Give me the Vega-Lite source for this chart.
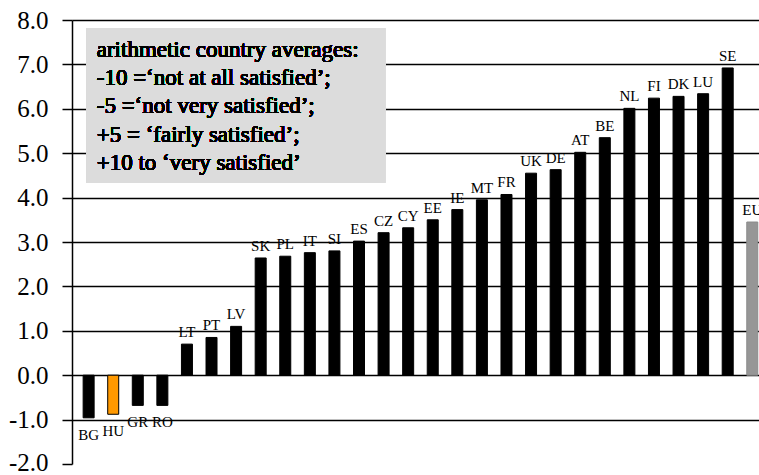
{
  "$schema": "https://vega.github.io/schema/vega-lite/v6.json",
  "autosize": {"type": "none"},
  "padding": {"left": 72, "top": 20, "right": 0, "bottom": 11},
  "width": 687,
  "height": 444,
  "background": "#ffffff",
  "config": {
    "view": {"stroke": null},
    "font": "Liberation Serif"
  },
  "data": {
    "values": [
      {"rank": 1, "country": "BG", "value": -0.96, "group": "country"},
      {"rank": 2, "country": "HU", "value": -0.88, "group": "HU"},
      {"rank": 3, "country": "GR", "value": -0.68, "group": "country"},
      {"rank": 4, "country": "RO", "value": -0.68, "group": "country"},
      {"rank": 5, "country": "LT", "value": 0.70, "group": "country"},
      {"rank": 6, "country": "PT", "value": 0.85, "group": "country"},
      {"rank": 7, "country": "LV", "value": 1.10, "group": "country"},
      {"rank": 8, "country": "SK", "value": 2.64, "group": "country"},
      {"rank": 9, "country": "PL", "value": 2.68, "group": "country"},
      {"rank": 10, "country": "IT", "value": 2.76, "group": "country"},
      {"rank": 11, "country": "SI", "value": 2.80, "group": "country"},
      {"rank": 12, "country": "ES", "value": 3.02, "group": "country"},
      {"rank": 13, "country": "CZ", "value": 3.21, "group": "country"},
      {"rank": 14, "country": "CY", "value": 3.32, "group": "country"},
      {"rank": 15, "country": "EE", "value": 3.50, "group": "country"},
      {"rank": 16, "country": "IE", "value": 3.73, "group": "country"},
      {"rank": 17, "country": "MT", "value": 3.95, "group": "country"},
      {"rank": 18, "country": "FR", "value": 4.07, "group": "country"},
      {"rank": 19, "country": "UK", "value": 4.55, "group": "country"},
      {"rank": 20, "country": "DE", "value": 4.63, "group": "country"},
      {"rank": 21, "country": "AT", "value": 5.02, "group": "country"},
      {"rank": 22, "country": "BE", "value": 5.35, "group": "country"},
      {"rank": 23, "country": "NL", "value": 6.01, "group": "country"},
      {"rank": 24, "country": "FI", "value": 6.24, "group": "country"},
      {"rank": 25, "country": "DK", "value": 6.28, "group": "country"},
      {"rank": 26, "country": "LU", "value": 6.34, "group": "country"},
      {"rank": 27, "country": "SE", "value": 6.92, "group": "country"},
      {"rank": 28, "country": "EU", "value": 3.45, "group": "EU"}
    ]
  },
  "encoding": {
    "x": {
      "field": "rank",
      "type": "quantitative",
      "scale": {"domain": [0.527, 28.07], "nice": false, "zero": false},
      "axis": null
    },
    "y": {
      "field": "value",
      "type": "quantitative",
      "scale": {"domain": [-2, 8], "nice": false, "zero": false},
      "axis": {
        "title": null,
        "values": [-2, -1, 0, 1, 2, 3, 4, 5, 6, 7, 8],
        "format": ".1f",
        "labelExpr": "replace(datum.label, '\u2212', '-')",
        "labelFont": "Liberation Serif",
        "labelFontSize": 25,
        "labelFontWeight": "normal",
        "labelColor": "#000000",
        "labelPadding": 14,
        "labelBound": false,
        "labelFlush": false,
        "labelOverlap": false,
        "labelOffset": {"condition": {"test": "datum.value == -2", "value": -2}, "value": 0},
        "tickSize": 10,
        "tickColor": "#000000",
        "tickWidth": 1.5,
        "domainColor": "#000000",
        "domainWidth": 1.5,
        "grid": true,
        "gridColor": "#000000",
        "gridWidth": 1.5,
        "gridOpacity": {"condition": {"test": "datum.value == -2", "value": 0}, "value": 1}
      }
    }
  },
  "layer": [
    {
      "mark": {"type": "rect", "color": "#dcdcdc"},
      "encoding": {
        "x": {"datum": 0.916, "type": "quantitative"},
        "x2": {"datum": 13.08},
        "y": {"datum": 7.81, "type": "quantitative"},
        "y2": {"datum": 4.34}
      }
    },
    {
      "mark": {
        "type": "text",
        "text": [
          "arithmetic country averages:",
          "-10 =\u2018not at all satisfied\u2019;",
          "-5 =\u2018not very satisfied\u2019;",
          "+5 = \u2018fairly satisfied\u2019;",
          "+10 to \u2018very satisfied\u2019"
        ],
        "align": "left",
        "baseline": "alphabetic",
        "font": "Liberation Serif",
        "fontSize": 23,
        "fontWeight": "normal",
        "lineHeight": 28.3,
        "color": "#000000"
      },
      "encoding": {
        "x": {"datum": 1.33, "type": "quantitative"},
        "y": {"datum": 7.17, "type": "quantitative"}
      }
    },
    {
      "mark": {"type": "bar", "size": 11, "clip": true, "strokeWidth": 1},
      "encoding": {
        "color": {
          "field": "group",
          "type": "nominal",
          "scale": {"domain": ["country", "HU", "EU"], "range": ["#000000", "#ff9900", "#969696"]},
          "legend": null
        },
        "stroke": {
          "field": "group",
          "type": "nominal",
          "scale": {"domain": ["country", "HU", "EU"], "range": ["#000000", "#000000", "#8c8c8c"]},
          "legend": null
        }
      }
    },
    {
      "transform": [{"filter": "datum.value >= 0"}],
      "mark": {"type": "text", "dy": -7, "baseline": "alphabetic", "font": "Liberation Serif", "fontSize": 15, "fontWeight": "normal", "color": "#000000"},
      "encoding": {"text": {"field": "country", "type": "nominal"}}
    },
    {
      "transform": [{"filter": "datum.value < 0"}],
      "mark": {"type": "text", "dy": 22, "baseline": "alphabetic", "font": "Liberation Serif", "fontSize": 15, "fontWeight": "normal", "color": "#000000"},
      "encoding": {"text": {"field": "country", "type": "nominal"}}
    }
  ]
}
